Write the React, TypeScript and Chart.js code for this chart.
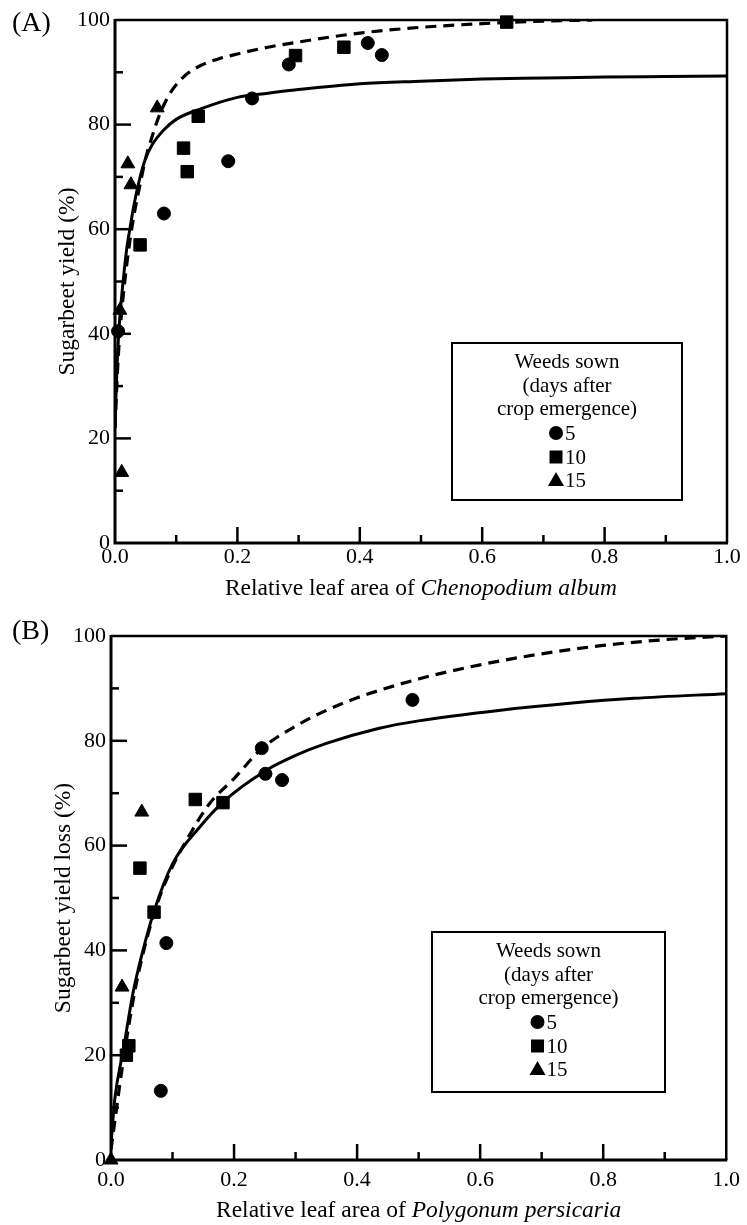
import React, { useEffect, useRef } from 'react';
import { Chart, registerables } from 'chart.js';

Chart.register(...registerables);

const SERIF = "'Liberation Serif', 'Times New Roman', serif";

// ---------- shared axis data ----------
const xTickLabels = ['0.0', '0.2', '0.4', '0.6', '0.8', '1.0'];
const yTickLabels = ['0', '20', '40', '60', '80', '100'];
const legendTitleLines = ['Weeds sown', '(days after', 'crop emergence)'];
const seriesLabels = ['5', '10', '15'];

// ---------- Panel A: Chenopodium album ----------
const aCircleX = [0.005, 0.08, 0.185, 0.224, 0.284, 0.413, 0.436];
const aCircleY = [40.5, 63, 73, 85, 91.5, 95.6, 93.3];
const aSquareX = [0.041, 0.112, 0.118, 0.136, 0.295, 0.374, 0.64];
const aSquareY = [57, 75.5, 71, 81.6, 93.2, 94.8, 99.6];
const aTriangleX = [0.011, 0.008, 0.021, 0.026, 0.069];
const aTriangleY = [13.5, 44.5, 72.5, 68.5, 83.2];
const aSolidX = [0, 0.003, 0.006, 0.01, 0.015, 0.02, 0.025, 0.03, 0.04, 0.05, 0.06, 0.08, 0.1, 0.14, 0.2, 0.25, 0.3, 0.4, 0.5, 0.6, 0.7, 0.8, 0.9, 1.0];
const aSolidY = [22, 33, 40, 46, 52, 57, 60.5, 64, 69.5, 73.5, 76, 79, 81, 83, 85.2, 86, 86.7, 87.8, 88.3, 88.7, 88.9, 89.1, 89.2, 89.3];
const aDashX = [0, 0.005, 0.01, 0.02, 0.03, 0.04, 0.05, 0.06, 0.07, 0.08, 0.09, 0.1, 0.11, 0.12, 0.14, 0.17, 0.2, 0.25, 0.3, 0.4, 0.5, 0.6, 0.7, 0.78];
const aDashY = [22, 35, 43, 54, 62, 68, 73.5, 77.5, 81, 83.8, 86, 87.6, 88.9, 89.9, 91.3, 92.6, 93.5, 94.8, 95.8, 97.5, 98.6, 99.3, 99.8, 100];

// ---------- Panel B: Polygonum persicaria ----------
const bCircleX = [0.081, 0.09, 0.245, 0.251, 0.278, 0.49];
const bCircleY = [13.2, 41.4, 78.6, 73.7, 72.5, 87.8];
const bSquareX = [0.025, 0.029, 0.047, 0.07, 0.137, 0.182];
const bSquareY = [20, 21.8, 55.7, 47.3, 68.8, 68.2];
const bTriangleX = [0, 0.018, 0.05];
const bTriangleY = [0, 33, 66.4];
const bSolidX = [0, 0.006, 0.02, 0.036, 0.052, 0.07, 0.1, 0.144, 0.182, 0.25, 0.3, 0.35, 0.436, 0.5, 0.63, 0.75, 0.85, 1.0];
const bSolidY = [3, 11.5, 21, 32, 40, 47.5, 56.5, 63.5, 68.3, 74.2, 77.2, 79.5, 82.4, 83.8, 85.8, 87.2, 88.1, 89];
const bDashX = [0, 0.02, 0.04, 0.06, 0.08, 0.1, 0.13, 0.16, 0.2, 0.245, 0.3, 0.35, 0.4, 0.5, 0.6, 0.7, 0.8, 0.9, 1.0];
const bDashY = [2, 19, 33, 43, 50.5, 56, 62.5, 68, 72.8, 78.5, 82.8, 85.8, 88.2, 91.8, 94.5, 96.6, 98.2, 99.3, 100];

const zip = (xs: number[], ys: number[]) => xs.map((x, i) => ({ x, y: ys[i] }));

type PanelSpec = {
  tag: string;
  yTitle: string;
  xTitlePre: string;
  xTitleItalic: string;
  circleX: number[]; circleY: number[];
  squareX: number[]; squareY: number[];
  triX: number[]; triY: number[];
  solidX: number[]; solidY: number[];
  dashX: number[]; dashY: number[];
  canvasH: number;
  padTop: number; padRight: number;
  yW: number; xH: number;
  xTickPad: number; yTitlePad: number;
  xTitleBase: number; tagBase: number;
  legend: { x: number; y: number; w: number; h: number };
};

const panelA: PanelSpec = {
  tag: '(A)',
  yTitle: 'Sugarbeet yield (%)',
  xTitlePre: 'Relative leaf area of ',
  xTitleItalic: 'Chenopodium album',
  circleX: aCircleX, circleY: aCircleY,
  squareX: aSquareX, squareY: aSquareY,
  triX: aTriangleX, triY: aTriangleY,
  solidX: aSolidX, solidY: aSolidY,
  dashX: aDashX, dashY: aDashY,
  canvasH: 612,
  padTop: 20, padRight: 20,
  yW: 115, xH: 69,
  xTickPad: 1, yTitlePad: 54,
  xTitleBase: 595, tagBase: 31,
  legend: { x: 452, y: 343, w: 230, h: 157 },
};

const panelB: PanelSpec = {
  tag: '(B)',
  yTitle: 'Sugarbeet yield loss (%)',
  xTitlePre: 'Relative leaf area of ',
  xTitleItalic: 'Polygonum persicaria',
  circleX: bCircleX, circleY: bCircleY,
  squareX: bSquareX, squareY: bSquareY,
  triX: bTriangleX, triY: bTriangleY,
  solidX: bSolidX, solidY: bSolidY,
  dashX: bDashX, dashY: bDashY,
  canvasH: 613,
  padTop: 24, padRight: 19,
  yW: 111, xH: 65,
  xTickPad: 7, yTitlePad: 50,
  xTitleBase: 605, tagBase: 27,
  legend: { x: 432, y: 320, w: 233, h: 160 },
};

function drawSymbol(ctx: CanvasRenderingContext2D, kind: number, x: number, y: number) {
  ctx.beginPath();
  if (kind === 0) {
    ctx.arc(x, y, 7, 0, Math.PI * 2);
  } else if (kind === 1) {
    ctx.rect(x - 6.5, y - 6.5, 13, 13);
  } else {
    ctx.moveTo(x, y - 8);
    ctx.lineTo(x + 8, y + 6);
    ctx.lineTo(x - 8, y + 6);
    ctx.closePath();
  }
  ctx.fill();
}

function makeDecor(p: PanelSpec) {
  return {
    id: 'decor',
    afterDraw(chart: any) {
      const ctx: CanvasRenderingContext2D = chart.ctx;
      const a = chart.chartArea;
      const xs = chart.scales.x;
      const ys = chart.scales.y;
      ctx.save();
      ctx.strokeStyle = '#000';
      ctx.fillStyle = '#000';
      // frame
      ctx.lineWidth = 2.5;
      ctx.beginPath();
      ctx.moveTo(a.left, a.top);
      ctx.lineTo(a.right, a.top);
      ctx.lineTo(a.right, a.bottom);
      ctx.stroke();
      ctx.lineWidth = 3;
      ctx.beginPath();
      ctx.moveTo(a.left, a.top - 1);
      ctx.lineTo(a.left, a.bottom);
      ctx.lineTo(a.right + 1, a.bottom);
      ctx.stroke();
      // inward ticks
      ctx.lineWidth = 2.5;
      for (let k = 1; k < 10; k++) {
        const len = k % 2 === 0 ? 16 : 8;
        const yy = ys.getPixelForValue(k * 10);
        ctx.beginPath();
        ctx.moveTo(a.left, yy);
        ctx.lineTo(a.left + len, yy);
        ctx.stroke();
        const xx = xs.getPixelForValue(k / 10);
        ctx.beginPath();
        ctx.moveTo(xx, a.bottom);
        ctx.lineTo(xx, a.bottom - len);
        ctx.stroke();
      }
      // panel tag
      ctx.font = `28px ${SERIF}`;
      ctx.textAlign = 'left';
      ctx.textBaseline = 'alphabetic';
      ctx.fillText(p.tag, 12, p.tagBase);
      // x title with italic species name
      const fs = 23.5;
      ctx.font = `${fs}px ${SERIF}`;
      const w1 = ctx.measureText(p.xTitlePre).width;
      ctx.font = `italic ${fs}px ${SERIF}`;
      const w2 = ctx.measureText(p.xTitleItalic).width;
      const cx = (a.left + a.right) / 2;
      const x0 = cx - (w1 + w2) / 2;
      ctx.font = `${fs}px ${SERIF}`;
      ctx.fillText(p.xTitlePre, x0, p.xTitleBase);
      ctx.font = `italic ${fs}px ${SERIF}`;
      ctx.fillText(p.xTitleItalic, x0 + w1, p.xTitleBase);
      // legend box
      const L = p.legend;
      ctx.lineWidth = 2;
      ctx.strokeRect(L.x, L.y, L.w, L.h);
      const lcx = L.x + L.w / 2;
      ctx.font = `21px ${SERIF}`;
      ctx.textAlign = 'center';
      ctx.textBaseline = 'middle';
      const offs = [19, 43, 66];
      legendTitleLines.forEach((t, i) => ctx.fillText(t, lcx, L.y + offs[i]));
      const rowOffs = [90, 114, 137];
      ctx.textAlign = 'left';
      seriesLabels.forEach((t, i) => {
        const yy = L.y + rowOffs[i];
        drawSymbol(ctx, i, lcx - 11, yy);
        ctx.fillText(t, lcx - 2, yy + 1);
      });
      ctx.restore();
    },
  };
}

function makeConfig(p: PanelSpec): any {
  const tickFont = { family: SERIF, size: 22 };
  return {
    type: 'scatter',
    data: {
      datasets: [
        {
          label: 'fit 1',
          data: zip(p.solidX, p.solidY),
          showLine: true,
          borderColor: '#000',
          borderWidth: 3,
          pointRadius: 0,
          cubicInterpolationMode: 'monotone',
          fill: false,
        },
        {
          label: 'fit 2',
          data: zip(p.dashX, p.dashY),
          showLine: true,
          borderColor: '#000',
          borderWidth: 3.2,
          borderDash: [11, 7],
          pointRadius: 0,
          cubicInterpolationMode: 'monotone',
          fill: false,
        },
        {
          label: seriesLabels[0],
          data: zip(p.circleX, p.circleY),
          pointStyle: 'circle',
          pointRadius: 6.5,
          backgroundColor: '#000',
          borderColor: '#000',
          borderWidth: 1,
          clip: false,
        },
        {
          label: seriesLabels[1],
          data: zip(p.squareX, p.squareY),
          pointStyle: 'rect',
          pointRadius: 8.8,
          backgroundColor: '#000',
          borderColor: '#000',
          borderWidth: 1,
          clip: false,
        },
        {
          label: seriesLabels[2],
          data: zip(p.triX, p.triY),
          pointStyle: 'triangle',
          pointRadius: 8,
          backgroundColor: '#000',
          borderColor: '#000',
          borderWidth: 1,
          clip: false,
        },
      ],
    },
    options: {
      responsive: false,
      animation: false,
      devicePixelRatio: 1,
      layout: { padding: { top: p.padTop, right: p.padRight, left: 0, bottom: 0 } },
      plugins: { legend: { display: false }, tooltip: { enabled: false } },
      scales: {
        x: {
          type: 'linear',
          min: 0,
          max: 1,
          afterFit: (s: any) => { s.height = p.xH; },
          grid: { display: false, drawTicks: false },
          border: { display: false },
          ticks: {
            stepSize: 0.2,
            autoSkip: false,
            maxRotation: 0,
            padding: p.xTickPad,
            color: '#000',
            font: tickFont,
            callback: (_v: any, i: number) => xTickLabels[i],
          },
        },
        y: {
          type: 'linear',
          min: 0,
          max: 100,
          afterFit: (s: any) => { s.width = p.yW; },
          grid: { display: false, drawTicks: false },
          border: { display: false },
          ticks: {
            stepSize: 20,
            autoSkip: false,
            padding: 5,
            color: '#000',
            font: tickFont,
            callback: (_v: any, i: number) => yTickLabels[i],
          },
          title: {
            display: true,
            text: p.yTitle,
            color: '#000',
            font: { family: SERIF, size: 23.5 },
            padding: { top: p.yTitlePad, bottom: 0 },
          },
        },
      },
    },
    plugins: [makeDecor(p)],
  };
}

function Panel({ p, top }: { p: PanelSpec; top: number }) {
  const ref = useRef<HTMLCanvasElement | null>(null);
  useEffect(() => {
    if (!ref.current) return;
    const chart = new Chart(ref.current, makeConfig(p));
    return () => chart.destroy();
  }, [p]);
  return (
    <canvas
      ref={ref}
      width={747}
      height={p.canvasH}
      style={{ position: 'absolute', left: 0, top, width: 747, height: p.canvasH }}
    />
  );
}

export default function App() {
  useEffect(() => {
    document.body.style.margin = '0';
    document.body.style.background = '#fff';
  }, []);
  return (
    <div style={{ position: 'relative', width: 747, height: 1225, background: '#fff', overflow: 'hidden' }}>
      <Panel p={panelA} top={0} />
      <Panel p={panelB} top={612} />
    </div>
  );
}
